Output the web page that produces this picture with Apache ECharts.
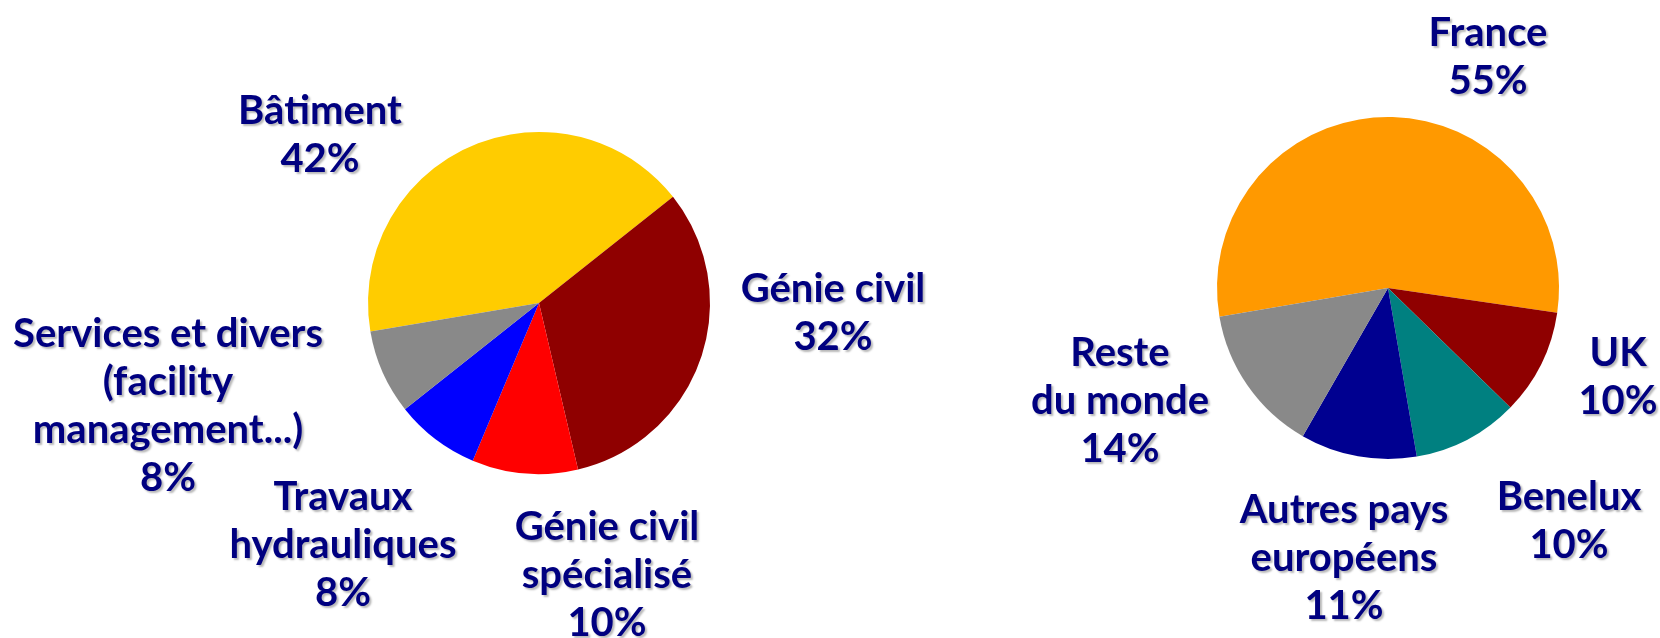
<!DOCTYPE html>
<html style="height: 100%">
<head>
    <meta charset="utf-8">
    <script src="https://cdn.jsdelivr.net/npm/echarts@6/dist/echarts.min.js"></script>
</head>
<body style="height: 100%; margin: 0; background: #fff">
    <div id="container" style="width: 1660px; height: 638px"></div>
    <script type="text/javascript">
        // activité (gauche)
        var activityNames = ['Bâtiment', 'Génie civil', 'Génie civil\nspécialisé', 'Travaux\nhydrauliques', 'Services et divers\n(facility\nmanagement...)'];
        var activityValues = [42, 32, 10, 8, 8];
        var activityColors = ['#FFCC00', '#8F0000', '#FF0000', '#0000FF', '#898989'];

        // zones géographiques (droite)
        var zoneNames = ['France', 'UK', 'Benelux', 'Autres pays\neuropéens', 'Reste\ndu monde'];
        var zoneValues = [55, 10, 10, 11, 14];
        var zoneColors = ['#FF9900', '#8F0000', '#008080', '#000090', '#898989'];

        // position des étiquettes (centre du bloc de texte)
        var activityLabelPos = [[320, 135], [833, 313], [607, 575], [343, 545], [168, 406]];
        var zoneLabelPos = [[1488, 57], [1618, 377], [1569, 521], [1344, 558], [1120, 401]];

        function buildData(names, values, colors) {
            var out = [];
            for (var i = 0; i < names.length; i++) {
                out.push({ name: names[i], value: values[i], itemStyle: { color: colors[i] } });
            }
            return out;
        }

        var labelStyle = {
            show: true,
            formatter: '{b}\n{c}%',
            color: '#000080',
            fontFamily: 'Lato',
            fontWeight: 'bold',
            fontSize: 40,
            lineHeight: 48,
            align: 'center',
            verticalAlign: 'middle',
            textShadowColor: 'rgba(0,0,0,0.28)',
            textShadowOffsetX: 2,
            textShadowOffsetY: 2,
            textShadowBlur: 2
        };

        function layoutFrom(pos) {
            return function (params) {
                var p = pos[params.dataIndex];
                return { x: p[0], y: p[1], align: 'center', verticalAlign: 'middle', hideOverlap: false };
            };
        }

        var myChart = echarts.init(document.getElementById('container'));
        var option = {
            backgroundColor: '#ffffff',
            animation: false,
            series: [{
                type: 'pie',
                center: [539, 303],
                radius: 171,
                startAngle: 189.6,
                avoidLabelOverlap: false,
                label: labelStyle,
                labelLine: { show: false },
                labelLayout: layoutFrom(activityLabelPos),
                emphasis: { disabled: true },
                data: buildData(activityNames, activityValues, activityColors)
            }, {
                type: 'pie',
                center: [1388, 288],
                radius: 171,
                startAngle: 189.7,
                avoidLabelOverlap: false,
                label: labelStyle,
                labelLine: { show: false },
                labelLayout: layoutFrom(zoneLabelPos),
                emphasis: { disabled: true },
                data: buildData(zoneNames, zoneValues, zoneColors)
            }]
        };
        myChart.setOption(option);
    </script>
</body>
</html>
